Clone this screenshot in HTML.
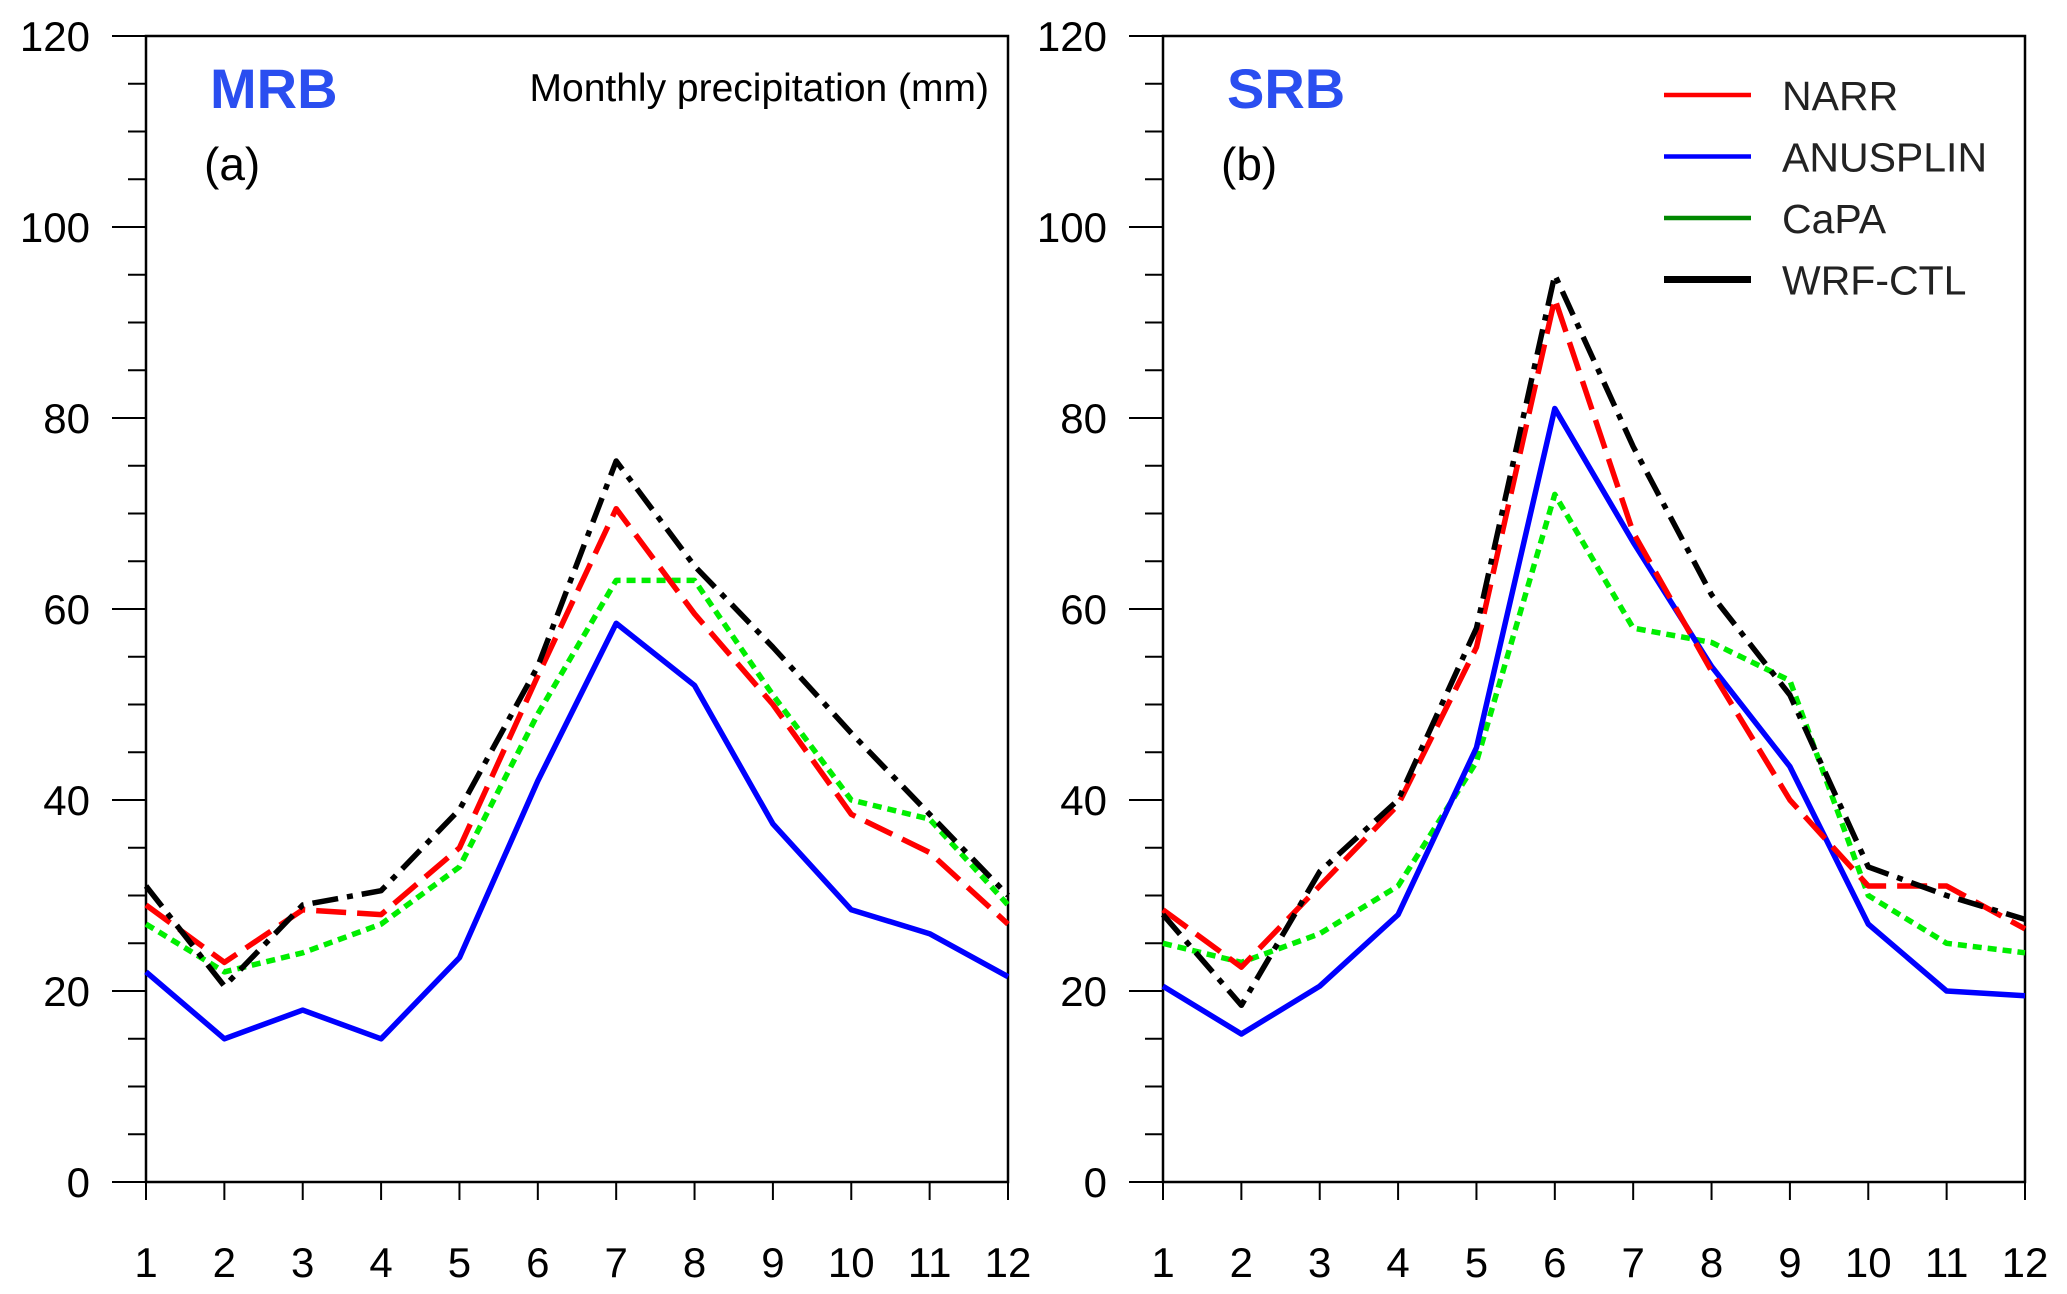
<!DOCTYPE html>
<html><head><meta charset="utf-8"><style>
body{margin:0;background:#fff}
svg{display:block;font-family:"Liberation Sans",sans-serif}
</style></head><body>
<svg id="c" width="2067" height="1294" viewBox="0 0 2067 1294"></svg>
<script>
const months=[1,2,3,4,5,6,7,8,9,10,11,12];
const yTicks=[0,20,40,60,80,100,120];
const seriesNames=["CaPA","ANUSPLIN","NARR","WRF-CTL"];
const mrbNARR=[29,23,28.5,28,35,53,70.5,59.5,50,38.5,34.5,27];
const mrbANUSPLIN=[22,15,18,15,23.5,42,58.5,52,37.5,28.5,26,21.5];
const mrbCaPA=[27,22,24,27,33,49,63,63,51,40,38,29];
const mrbWRF=[31,20.5,29,30.5,39,54,75.5,64.5,56,47,38.5,30];
const srbNARR=[28.5,22.5,31,39.5,56,92.5,68,53.5,40,31,31,26.5];
const srbANUSPLIN=[20.5,15.5,20.5,28,45.5,81,67,54,43.5,27,20,19.5];
const srbCaPA=[25,23,26,31,44,72,58,56.5,52.5,30,25,24];
const srbWRF=[28,18.5,32.5,40,58,95,77,61.5,51,33,30,27.5];

const NS="http://www.w3.org/2000/svg";
const svg=document.getElementById('c');
function mk(t,a,p){const e=document.createElementNS(NS,t);for(const k in a)e.setAttribute(k,a[k]);(p||svg).appendChild(e);return e;}
const styles={
 "NARR":{stroke:"#f00",dash:"30,11"},
 "ANUSPLIN":{stroke:"#00f",dash:""},
 "CaPA":{stroke:"#0e0",dash:"9,6"},
 "WRF-CTL":{stroke:"#000",dash:"26,9,6,9"}
};
const y0=1182,y1=36;
function yS(v){return y0+(y1-y0)*v/120;}
function panel(id,x0,x1,title,tag,data){
 const g=mk('g',{});
 
 
 const xS=m=>x0+(x1-x0)*(m-1)/11;
 const frame=mk('rect',{x:x0,y:y1,width:x1-x0,height:y0-y1,fill:'none',stroke:'#000','stroke-width':2.5},g);
 
 
 for(let v=0;v<=120;v+=5){
  const maj=v%20===0;
  mk('line',{x1:x0-(maj?34:18),x2:x0,y1:yS(v),y2:yS(v),stroke:'#000','stroke-width':2},g);
 }
 yTicks.forEach(v=>{
  const t=mk('text',{x:x0-56,y:yS(v)+15,'text-anchor':'end','font-size':42,fill:'#000'},g);
  t.textContent=v;
  
  
 });
 months.forEach(m=>{
  mk('line',{x1:xS(m),x2:xS(m),y1:y0,y2:y0+18,stroke:'#000','stroke-width':2},g);
  const t=mk('text',{x:xS(m),y:1277,'text-anchor':'middle','font-size':42,fill:'#000'},g);
  t.textContent=m;
  
  
 });
 seriesNames.forEach(n=>{
  const vals=data[n];
  const pts=months.map((m,i)=>xS(m).toFixed(1)+','+yS(vals[i]).toFixed(1)).join(' ');
  const s=styles[n];
  const pl=mk('polyline',{points:pts,fill:'none',stroke:s.stroke,'stroke-width':5.5,'stroke-dasharray':s.dash,'stroke-linejoin':'round'},g);
  
  
 });
 const tt=mk('text',{x:x0+64,y:108,'font-size':56,'font-weight':'bold',fill:'#2a4ef0'},g);
 tt.textContent=title;
 
 
 const tg=mk('text',{x:x0+58,y:180,'font-size':46,fill:'#000'},g);
 tg.textContent=tag;
 
 
}
panel('mrb',146,1008,'MRB','(a)',{"NARR":mrbNARR,"ANUSPLIN":mrbANUSPLIN,"CaPA":mrbCaPA,"WRF-CTL":mrbWRF});
panel('srb',1163,2025,'SRB','(b)',{"NARR":srbNARR,"ANUSPLIN":srbANUSPLIN,"CaPA":srbCaPA,"WRF-CTL":srbWRF});
const ut=mk('text',{x:989,y:101,'text-anchor':'end','font-size':39,fill:'#000'});
ut.textContent='Monthly precipitation (mm)';


const legendNames=["NARR","ANUSPLIN","CaPA","WRF-CTL"];
const legendCols={"NARR":"#f00","ANUSPLIN":"#00f","CaPA":"#080","WRF-CTL":"#000"};
legendNames.forEach((n,i)=>{
 const y=95+i*61.5;
 const l=mk('line',{x1:1664,x2:1751,y1:y,y2:y,stroke:legendCols[n],'stroke-width':n==="WRF-CTL"?7:4.5});
 
 
 const t=mk('text',{x:1782,y:y+15,'font-size':41,fill:'#222'});
 t.textContent=n;
 
 
});
</script>
</body></html>
